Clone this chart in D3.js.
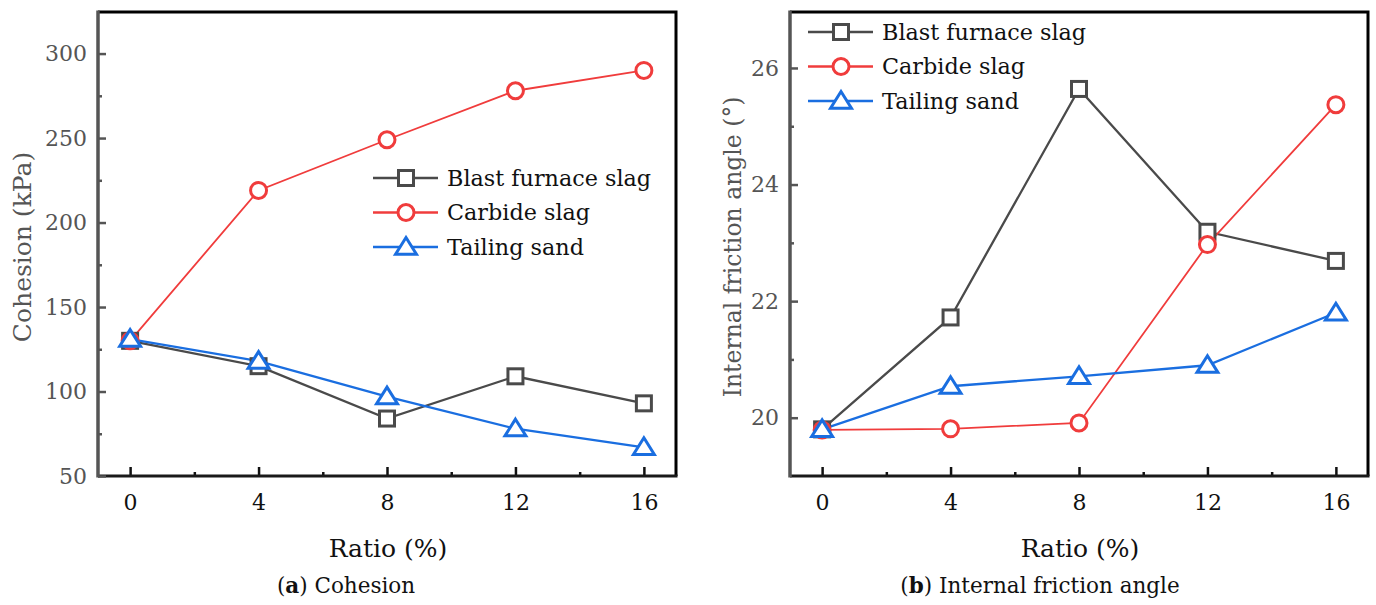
<!DOCTYPE html>
<html><head><meta charset="utf-8">
<script src="https://cdn.jsdelivr.net/npm/d3@7"></script>
<style>body{margin:0;background:#fff}svg{display:block}</style>
</head><body>
<svg id="chart" width="1376" height="605"></svg>
<script>
const ratios = [0, 4, 8, 12, 16];
const seriesNames = ["Blast furnace slag", "Carbide slag", "Tailing sand"];
const cohesionBlast = [130, 115, 84, 109, 93];
const cohesionCarbide = [130, 219, 249, 278, 290];
const cohesionTailing = [131, 118, 97, 78, 67];
const frictionBlast = [19.8, 21.72, 25.64, 23.19, 22.69];
const frictionCarbide = [19.79, 19.81, 19.91, 22.97, 25.37];
const frictionTailing = [19.8, 20.54, 20.71, 20.9, 21.8];
const cohesionTicks = [50, 100, 150, 200, 250, 300];
const frictionTicks = [20, 22, 24, 26];
const xTicks = [0, 4, 8, 12, 16];

const colors = ["#4a4a4a", "#f03c3c", "#1a6ee0"];
const shapes = ["square", "circle", "triangle"];
const FONT = "DejaVu Serif";

const svg = d3.select("#chart");

function marker(g, shape, color, x, y) {
  if (shape === "square") {
    g.append("rect").attr("x", x - 7.5).attr("y", y - 7.5).attr("width", 15).attr("height", 15)
      .attr("fill", "#fff").attr("stroke", color).attr("stroke-width", 3);
  } else if (shape === "circle") {
    g.append("circle").attr("cx", x).attr("cy", y).attr("r", 8)
      .attr("fill", "#fff").attr("stroke", color).attr("stroke-width", 3);
  } else {
    const s = 9.5;
    g.append("path").attr("d", `M${x},${y - s}L${x + s * 1.1},${y + s * 0.75}L${x - s * 1.1},${y + s * 0.75}Z`)
      .attr("fill", "#fff").attr("stroke", color).attr("stroke-width", 3).attr("stroke-linejoin", "miter");
  }
}

function panel(opt) {
  const { left, right, top, bottom, yDomain, yTicks, yMinor, data, yTitle, caption, capX, legendX, legendY, titleX, titleSize } = opt;
  const x = d3.scaleLinear().domain([-1, 17]).range([left, right]);
  const y = d3.scaleLinear().domain(yDomain).range([bottom, top]);
  const g = svg.append("g");

  g.append("path").attr("d", `M${left},${top}H${right}V${bottom}`)
    .attr("fill", "none").attr("stroke", "#000").attr("stroke-width", 3);

  const xAxis = d3.axisBottom(x).tickValues(xTicks).tickSize(-9).tickPadding(18).tickFormat(d3.format("d"));
  const gx = g.append("g").attr("transform", `translate(0,${bottom})`).call(xAxis);
  gx.select(".domain").remove();
  gx.selectAll(".tick line").attr("stroke", "#111").attr("stroke-width", 2.5);
  gx.selectAll(".tick text").attr("font-size", 22).attr("font-family", FONT).attr("fill", "#111").attr("dy", "0.71em");
  const gxm = g.append("g").attr("transform", `translate(0,${bottom})`)
    .call(d3.axisBottom(x).tickValues([2, 6, 10, 14]).tickSize(-4).tickFormat(""));
  gxm.select(".domain").remove();
  gxm.selectAll(".tick line").attr("stroke", "#111").attr("stroke-width", 2.5);
  g.append("line").attr("x1", left).attr("x2", right + 1.5).attr("y1", bottom).attr("y2", bottom)
    .attr("stroke", "#1a1a1a").attr("stroke-width", 3);

  const yAxis = d3.axisLeft(y).tickValues(yTicks).tickSize(-8).tickPadding(11);
  const gy = g.append("g").attr("transform", `translate(${left},0)`).call(yAxis);
  gy.select(".domain").remove();
  gy.selectAll(".tick line").attr("stroke", "#555").attr("stroke-width", 2.5);
  gy.selectAll(".tick text").attr("font-size", 22).attr("font-family", FONT).attr("fill", "#555");
  const gym = g.append("g").attr("transform", `translate(${left},0)`)
    .call(d3.axisLeft(y).tickValues(yMinor).tickSize(-4).tickFormat(""));
  gym.select(".domain").remove();
  gym.selectAll(".tick line").attr("stroke", "#555").attr("stroke-width", 2.5);
  g.append("line").attr("x1", left).attr("x2", left).attr("y1", top - 1.5).attr("y2", bottom + 1.5)
    .attr("stroke", "#555").attr("stroke-width", 3.5);

  g.append("text").attr("x", (left + right) / 2 + 1).attr("y", 557).attr("text-anchor", "middle")
    .attr("font-family", FONT).attr("font-size", 25).attr("fill", "#111").text("Ratio (%)");
  g.append("text").attr("transform", `translate(${titleX},${(top + bottom) / 2 + 3}) rotate(-90)`)
    .attr("text-anchor", "middle").attr("font-family", FONT).attr("font-size", titleSize).attr("fill", "#555").text(yTitle);
  const cap = g.append("text").attr("x", capX).attr("y", 593).attr("text-anchor", "middle")
    .attr("font-family", FONT).attr("font-size", 21.5).attr("fill", "#111");
  cap.append("tspan").text("(");
  cap.append("tspan").attr("font-weight", "bold").text(caption[0]);
  cap.append("tspan").text(") " + caption[1]);

  const line = d3.line().x((d, i) => x(ratios[i])).y(d => y(d));
  data.forEach((vals, k) => {
    g.append("path").datum(vals).attr("d", line).attr("fill", "none")
      .attr("stroke", colors[k]).attr("stroke-width", k === 1 ? 1.8 : 2.3);
  });
  data.forEach((vals, k) => {
    vals.forEach((v, i) => marker(g, shapes[k], colors[k], x(ratios[i]), y(v)));
  });

  seriesNames.forEach((name, k) => {
    const yy = legendY + k * 34.5;
    g.append("line").attr("x1", legendX).attr("x2", legendX + 65).attr("y1", yy).attr("y2", yy)
      .attr("stroke", colors[k]).attr("stroke-width", 2.3);
    marker(g, shapes[k], colors[k], legendX + 33, yy);
    g.append("text").attr("x", legendX + 74).attr("y", yy).attr("dy", "0.35em")
      .attr("font-family", FONT).attr("font-size", 22.3).attr("fill", "#111").text(name);
  });
}

panel({
  left: 98, right: 676, top: 12, bottom: 476,
  yDomain: [50, 324.6], yTicks: cohesionTicks, yMinor: [75, 125, 175, 225, 275],
  data: [cohesionBlast, cohesionCarbide, cohesionTailing],
  yTitle: "Cohesion (kPa)", caption: ["a", "Cohesion"], capX: 346,
  legendX: 373, legendY: 178, titleX: 31, titleSize: 25
});
panel({
  left: 790, right: 1368, top: 12, bottom: 476,
  yDomain: [19, 26.96], yTicks: frictionTicks, yMinor: [21, 23, 25],
  data: [frictionBlast, frictionCarbide, frictionTailing],
  yTitle: "Internal friction angle (°)", caption: ["b", "Internal friction angle"], capX: 1040,
  legendX: 808, legendY: 32, titleX: 741, titleSize: 23.5
});
</script>
</body></html>
